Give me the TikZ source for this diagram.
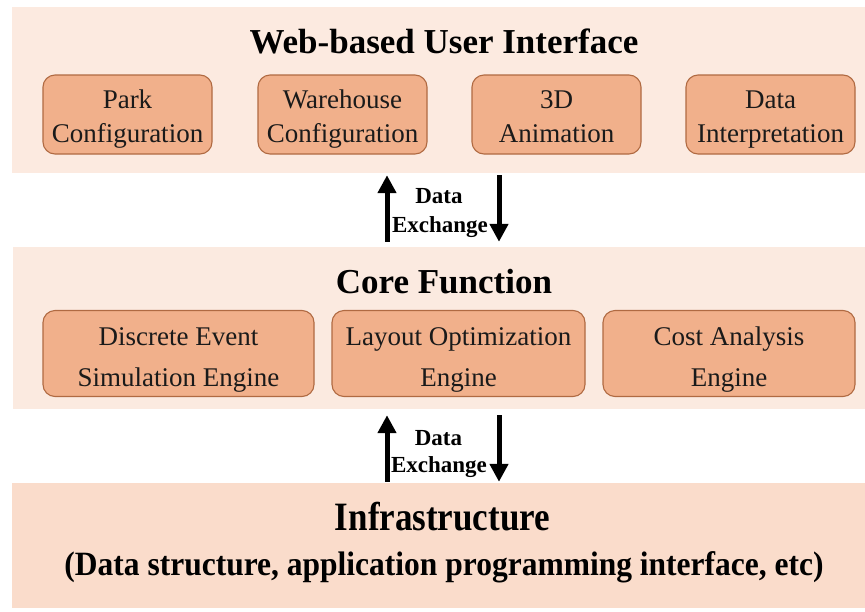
\documentclass[tikz,border=0pt]{standalone}
\usepackage{fontspec}
\setmainfont{Liberation Serif}
\usetikzlibrary{arrows.meta}
\definecolor{bandA}{HTML}{FCEAE0}
\definecolor{bandB}{HTML}{FBEAE0}
\definecolor{bandC}{HTML}{FADCCB}
\definecolor{boxfill}{HTML}{F1B08B}
\definecolor{boxline}{HTML}{B06A42}
\definecolor{ink}{HTML}{1A1A1A}
\tikzset{
  band/.style={rectangle, fill=#1, draw=none, inner sep=0pt},
  modbox/.style={rectangle, draw=boxline, fill=boxfill, rounded corners=12pt, line width=1.1pt, inner sep=0pt, text=ink},
  bigtitle/.style={anchor=base, inner sep=0pt, font=\fontsize{35}{40}\selectfont\bfseries, text=black},
  xlabel/.style={anchor=base, inner sep=0pt, font=\fontsize{23}{26}\selectfont\bfseries, text=black},
  bigarrow/.style={line width=5pt, -{Triangle[width=18pt,length=18pt]}, black}
}
\newcommand{\toptext}[2]{\raisebox{-4pt}[\height][\depth]{\fontsize{27}{34}\selectfont\begin{tabular}{@{}c@{}}#1\\#2\end{tabular}}}
\newcommand{\midtext}[2]{\raisebox{-4pt}[\height][\depth]{\fontsize{27}{41}\selectfont\begin{tabular}{@{}c@{}}#1\\#2\end{tabular}}}
\begin{document}
\begin{tikzpicture}[x=1pt,y=-1pt]
\useasboundingbox (0,0) rectangle (865,611);
\fill[white] (0,0) rectangle (865,611);
% bands
\node[band=bandA, minimum width=853pt, minimum height=166pt] (band1) at (438.5,90) {};
\node[band=bandB, minimum width=852pt, minimum height=162pt] (band2) at (439,328) {};
\node[band=bandC, minimum width=853pt, minimum height=125pt] (band3) at (438.5,545.5) {};
% titles
\node[bigtitle] (t1) at (444,53) {Web-based User Interface};
\node[bigtitle] (t2) at (444,293) {Core Function};
\node[bigtitle] (t3) at (442.5,530) {\scalebox{1}[1.15]{Infrastructure}};
\node[bigtitle, font=\fontsize{31.5}{36}\selectfont\bfseries] (t4) at (444,575) {\scalebox{1}[1.08]{(Data structure, application programming interface, etc)}};
% top boxes
\node[modbox, minimum width=169pt, minimum height=79pt] (park) at (127.5,114.5) {\toptext{Park}{Configuration}};
\node[modbox, minimum width=169pt, minimum height=79pt] (ware) at (342.5,114.5) {\toptext{Warehouse}{Configuration}};
\node[modbox, minimum width=169pt, minimum height=79pt] (anim) at (556.5,114.5) {\toptext{3D}{Animation}};
\node[modbox, minimum width=169pt, minimum height=79pt] (interp) at (770.5,114.5) {\toptext{Data}{Interpretation}};
% middle boxes
\node[modbox, minimum width=271pt, minimum height=86pt] (des) at (178.5,353.5) {\midtext{Discrete Event}{Simulation Engine}};
\node[modbox, minimum width=253pt, minimum height=86pt] (layout) at (458.5,353.5) {\midtext{Layout Optimization}{Engine}};
\node[modbox, minimum width=252pt, minimum height=86pt] (cost) at (729,353.5) {\midtext{Cost Analysis}{Engine}};
% arrow positions
\coordinate (ua) at (387,0);
\coordinate (da) at (499,0);
% upper exchange
\draw[bigarrow] ([yshift=5pt]band2.north -| ua) -- ([yshift=-2pt]band1.south -| ua);
\draw[bigarrow] ([yshift=-2pt]band1.south -| da) -- ([yshift=5pt]band2.north -| da);
\node[xlabel] (d1) at (439,203) {Data};
\node[xlabel] (e1) at (440,232) {Exchange};
% lower exchange
\draw[bigarrow] ([yshift=1pt]band3.north -| ua) -- ([yshift=-6pt]band2.south -| ua);
\draw[bigarrow] ([yshift=-6pt]band2.south -| da) -- ([yshift=1pt]band3.north -| da);
\node[xlabel] (d2) at (438.5,445) {Data};
\node[xlabel] (e2) at (439,472) {Exchange};
\end{tikzpicture}
\end{document}
